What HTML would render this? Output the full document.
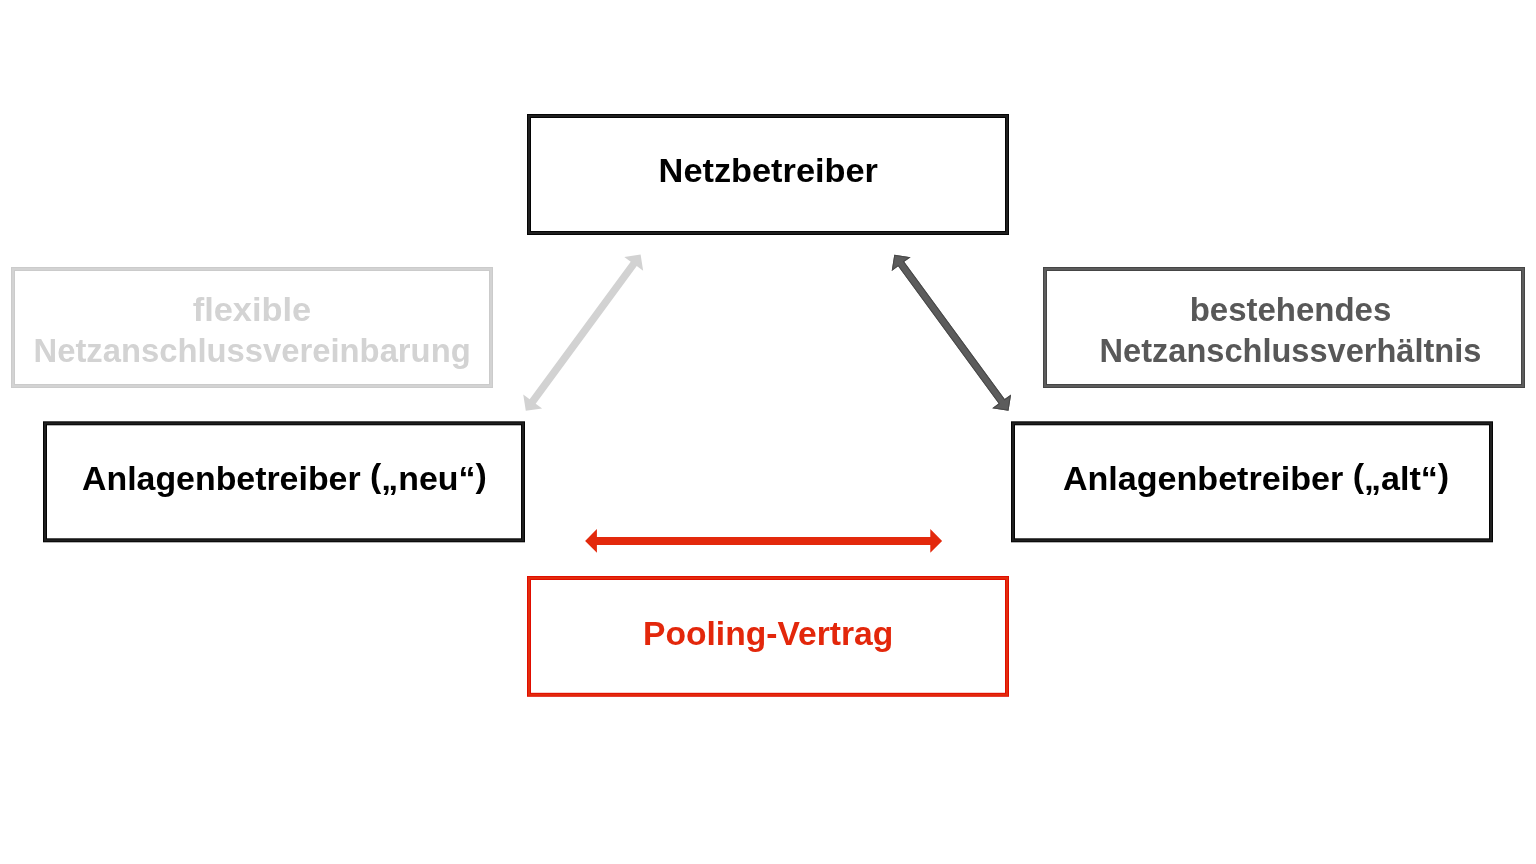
<!DOCTYPE html>
<html lang="de">
<head>
<meta charset="utf-8">
<title>Pooling-Vertrag</title>
<style>
html,body{margin:0;padding:0;background:#ffffff;}
body{width:1536px;height:864px;overflow:hidden;}
svg{display:block;will-change:transform;}
text{font-family:"Liberation Sans",sans-serif;font-weight:bold;}
</style>
</head>
<body>
<svg width="1536" height="864" viewBox="0 0 1536 864">
<rect x="0" y="0" width="1536" height="864" fill="#ffffff"/>
<rect x="529.00" y="116.00" width="478.00" height="117.00" fill="none" stroke="#050505" stroke-width="4"/><rect x="529.00" y="116.00" width="478.00" height="117.00" fill="none" stroke="#1f1f1f" stroke-width="2"/>
<rect x="13.00" y="269.00" width="478.00" height="117.00" fill="none" stroke="#cbcbcb" stroke-width="4"/><rect x="13.00" y="269.00" width="478.00" height="117.00" fill="none" stroke="#d3d3d3" stroke-width="2"/>
<rect x="1045.00" y="269.00" width="478.00" height="117.00" fill="none" stroke="#454545" stroke-width="4"/><rect x="1045.00" y="269.00" width="478.00" height="117.00" fill="none" stroke="#5c5c5c" stroke-width="2"/>
<rect x="45.00" y="423.30" width="478.00" height="117.00" fill="none" stroke="#050505" stroke-width="4"/><rect x="45.00" y="423.30" width="478.00" height="117.00" fill="none" stroke="#1f1f1f" stroke-width="2"/>
<rect x="1013.00" y="423.30" width="478.00" height="117.00" fill="none" stroke="#050505" stroke-width="4"/><rect x="1013.00" y="423.30" width="478.00" height="117.00" fill="none" stroke="#1f1f1f" stroke-width="2"/>
<rect x="529.00" y="578.00" width="478.00" height="116.80" fill="none" stroke="#e00d00" stroke-width="4"/><rect x="529.00" y="578.00" width="478.00" height="116.80" fill="none" stroke="#e32c0c" stroke-width="2"/>
<polygon points="640.60,254.50 624.30,256.92 630.71,261.63 529.64,399.23 523.24,394.52 525.80,410.80 542.10,408.38 535.69,403.67 636.76,266.07 643.16,270.78" fill="#d2d2d2"/>
<clipPath id="c1"><polygon points="894.30,254.70 891.71,270.97 898.13,266.28 998.62,403.56 992.21,408.25 1008.50,410.70 1011.09,394.43 1004.67,399.12 904.18,261.84 910.59,257.15"/></clipPath><polygon points="894.30,254.70 891.71,270.97 898.13,266.28 998.62,403.56 992.21,408.25 1008.50,410.70 1011.09,394.43 1004.67,399.12 904.18,261.84 910.59,257.15" fill="#5c5c5c"/><polygon points="894.30,254.70 891.71,270.97 898.13,266.28 998.62,403.56 992.21,408.25 1008.50,410.70 1011.09,394.43 1004.67,399.12 904.18,261.84 910.59,257.15" fill="none" stroke="#484848" stroke-width="2" clip-path="url(#c1)"/>
<polygon points="585.10,540.90 596.90,552.80 596.90,544.90 930.30,544.90 930.30,552.80 942.10,540.90 930.30,529.00 930.30,536.90 596.90,536.90 596.90,529.00" fill="#e3290c"/>
<text x="658.60" y="182.00" textLength="219.32" lengthAdjust="spacingAndGlyphs" fill="#000" font-size="33.5">Netzbetreiber</text>
<text x="82.01" y="489.70" textLength="404.68" lengthAdjust="spacingAndGlyphs" fill="#000" font-size="33.5">Anlagenbetreiber <tspan dy="-2.4">(</tspan><tspan dy="2.4">„neu“</tspan><tspan dy="-2.4">)</tspan></text>
<text x="1062.95" y="489.70" textLength="386.25" lengthAdjust="spacingAndGlyphs" fill="#000" font-size="33.5">Anlagenbetreiber <tspan dy="-2.4">(</tspan><tspan dy="2.4">„alt“</tspan><tspan dy="-2.4">)</tspan></text>
<text x="192.71" y="320.80" textLength="118.46" lengthAdjust="spacingAndGlyphs" fill="#d3d3d3" font-size="33.5">flexible</text>
<text x="33.51" y="361.50" textLength="437.19" lengthAdjust="spacingAndGlyphs" fill="#d3d3d3" font-size="33.5">Netzanschlussvereinbarung</text>
<text x="1189.73" y="320.80" textLength="201.53" lengthAdjust="spacingAndGlyphs" fill="#585858" font-size="33.5">bestehendes</text>
<text x="1099.57" y="361.50" textLength="381.76" lengthAdjust="spacingAndGlyphs" fill="#585858" font-size="33.5">Netzanschlussverhältnis</text>
<text x="643.05" y="644.70" textLength="250.20" lengthAdjust="spacingAndGlyphs" fill="#e3270b" font-size="33.5">Pooling-Vertrag</text>
</svg>
</body>
</html>
